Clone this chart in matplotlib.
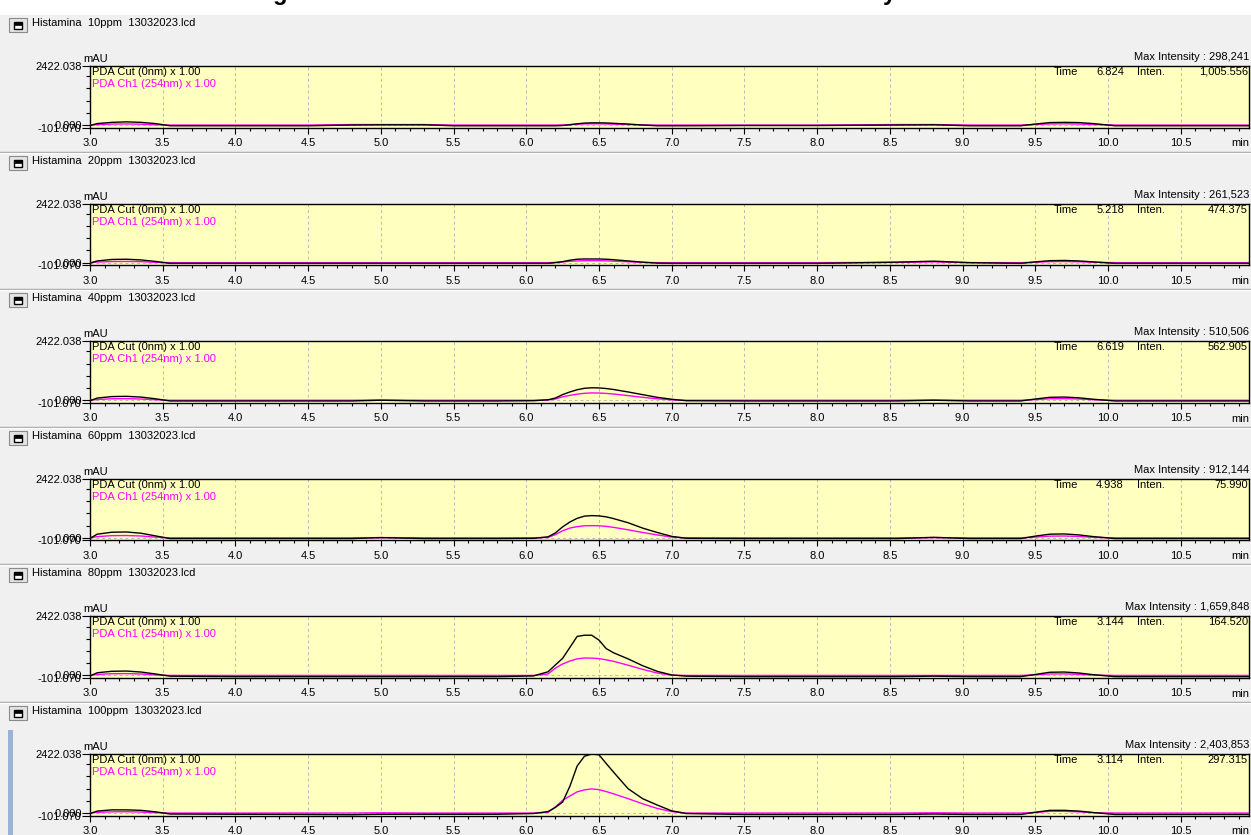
import matplotlib.pyplot as plt
from matplotlib.patches import Rectangle
from matplotlib.lines import Line2D
from matplotlib.ticker import MultipleLocator, FixedLocator

plt.rcParams['font.family'] = ['Liberation Sans', 'DejaVu Sans']

# tiempos comunes (min)
time_pts = [3.00, 3.05, 3.15, 3.25, 3.35, 3.45, 3.55,
            4.00, 4.50, 4.80, 5.00, 5.30, 5.50, 5.80,
            6.05, 6.15, 6.20, 6.25, 6.30, 6.35, 6.40, 6.45, 6.50, 6.55, 6.60,
            6.70, 6.80, 6.90, 7.00, 7.10,
            7.50, 8.00, 8.55, 8.80, 9.05,
            9.40, 9.50, 9.60, 9.70, 9.80, 9.90, 10.05,
            10.50, 10.97]

# PDA Cut (0nm), mAU
cut_10 = [-20, 60, 110, 130, 110, 60, -30,
          -30, -30, 0, 10, 10, -30, -30,
          -30, -30, -30, -20, 10, 50, 80, 90, 90, 85, 70, 40, 0, -30, -30, -30,
          -20, -20, 0, 10, -30,
          -30, 40, 100, 110, 100, 60, -30,
          -30, -30]
cut_20 = [-20, 70, 130, 140, 110, 50, -30,
          -30, -30, -30, -30, -30, -30, -30,
          -30, -30, 0, 40, 100, 140, 150, 150, 150, 140, 120, 70, 20, -20, -30, -30,
          -30, -30, 20, 60, 0,
          -30, 30, 80, 90, 70, 30, -30,
          -30, -30]
cut_40 = [-20, 90, 150, 160, 130, 60, -30,
          -30, -30, -30, 0, -30, -30, -30,
          -20, 20, 90, 230, 340, 430, 490, 510, 505, 480, 440, 340, 230, 120, 40, -20,
          -30, -30, -30, 0, -30,
          -30, 50, 120, 130, 100, 40, -30,
          -30, -30]
cut_60 = [-20, 150, 230, 240, 190, 80, -30,
          -30, -30, -30, 10, -30, -30, -30,
          -20, 40, 200, 450, 650, 800, 890, 912, 900, 860, 790, 620, 400, 220, 60, -20,
          -30, -30, -30, 20, -30,
          -30, 70, 150, 160, 120, 50, -30,
          -30, -30]
cut_80 = [-20, 110, 170, 180, 140, 60, -30,
          -50, -50, -50, -50, -50, -50, -50,
          -20, 150, 430, 700, 1150, 1600, 1650, 1650, 1450, 1100, 930, 680, 400, 170, 20, -30,
          -50, -50, -50, -30, -50,
          -50, 40, 130, 140, 100, 30, -50,
          -50, -50]
cut_100 = [-20, 80, 130, 130, 110, 50, -40,
           -50, -60, -70, -50, -50, -50, -50,
           -20, 60, 230, 450, 1100, 1930, 2330, 2420, 2390, 2030, 1680, 1000, 590, 330, 90, -20,
           -60, -60, -60, -40, -60,
           -60, 30, 110, 110, 80, 20, -60,
           -60, -60]

# PDA Ch1 (254nm), mAU
ch1_10 = [0, 20, 40, 45, 35, 10, 0,
          0, 0, 20, 20, 20, 0, 0,
          0, 0, 0, 5, 20, 35, 45, 50, 50, 45, 35, 20, 5, 0, 0, 0,
          0, 0, 20, 20, 0,
          0, 20, 45, 50, 40, 20, 0,
          0, 0]
ch1_20 = [0, 25, 45, 50, 40, 15, 0,
          0, 0, 0, 0, 0, 0, 0,
          0, 0, 10, 30, 55, 70, 80, 80, 80, 75, 60, 35, 10, 0, 0, 0,
          0, 0, 10, 30, 0,
          0, 15, 40, 45, 35, 15, 0,
          0, 0]
ch1_40 = [0, 30, 60, 65, 50, 20, 0,
          0, 0, 0, 10, 0, 0, 0,
          0, 10, 50, 140, 200, 250, 285, 300, 295, 280, 255, 190, 120, 60, 15, 0,
          0, 0, 0, 10, 0,
          0, 25, 60, 65, 50, 20, 0,
          0, 0]
ch1_60 = [0, 50, 90, 95, 75, 30, 0,
          0, 0, 0, 10, 0, 0, 0,
          0, 20, 130, 290, 400, 460, 495, 500, 495, 470, 430, 330, 220, 120, 30, 0,
          0, 0, 0, 10, 0,
          0, 30, 70, 75, 55, 20, 0,
          0, 0]
ch1_80 = [0, 40, 70, 75, 60, 20, 0,
          0, 0, 0, 0, 0, 0, 0,
          0, 60, 300, 470, 590, 680, 715, 710, 690, 640, 580, 420, 250, 100, 10, 0,
          0, 0, 0, 0, 0,
          0, 25, 60, 65, 45, 15, 0,
          0, 0]
ch1_100 = [0, 30, 50, 55, 40, 15, 0,
           0, 0, 0, 10, 0, 0, 0,
           0, 30, 250, 520, 700, 870, 950, 990, 960, 880, 790, 590, 380, 190, 60, 0,
           0, 0, 0, 10, 0,
           0, 25, 70, 70, 50, 15, 0,
           0, 0]

panel_names = ['Histamina  10ppm  13032023.lcd', 'Histamina  20ppm  13032023.lcd',
               'Histamina  40ppm  13032023.lcd', 'Histamina  60ppm  13032023.lcd',
               'Histamina  80ppm  13032023.lcd', 'Histamina  100ppm  13032023.lcd']
max_intensity = ['298,241', '261,523', '510,506', '912,144', '1,659,848', '2,403,853']
cursor_time = ['6.824', '5.218', '6.619', '4.938', '3.144', '3.114']
cursor_inten = ['1,005.556', '474.375', '562.905', '75.990', '164.520', '297.315']

cut_series = [cut_10, cut_20, cut_40, cut_60, cut_80, cut_100]
ch1_series = [ch1_10, ch1_20, ch1_40, ch1_60, ch1_80, ch1_100]

y_min, y_max = -101.070, 2422.038
x_min, x_max = 3.0, 10.97

W, H = 1251, 835


def fx(x):
    return x / W


def fy(y):
    return 1 - y / H


fig = plt.figure(figsize=(W / 100, H / 100), dpi=100)
fig.patch.set_facecolor('#f0f0f0')

# franja blanca de arriba y titulo cortado
fig.add_artist(Rectangle((0, fy(15)), 1, 15 / H, transform=fig.transFigure,
                         facecolor='white', edgecolor='none'))
fig.text(fx(280), fy(0), 'g', fontsize=17, fontweight='bold', ha='center', va='baseline')
fig.text(fx(889), fy(0), 'y', fontsize=17, fontweight='bold', ha='center', va='baseline')

# barra azul del panel seleccionado
fig.add_artist(Rectangle((fx(8), 0), 5 / W, (H - 730) / H, transform=fig.transFigure,
                         facecolor='#9cb4d4', edgecolor='none'))

step = 137.6
ph = 61.5
left, right = 90, 1249

for i in range(6):
    top = 66 + i * step
    bottom = top + ph

    # cabecera
    fig.add_artist(Rectangle((fx(9), fy(top - 34)), 18 / W, 14 / H, transform=fig.transFigure,
                             facecolor='#e4e4e4', edgecolor='#8a8a8a', lw=0.8))
    fig.add_artist(Rectangle((fx(14), fy(top - 37)), 8 / W, 7 / H, transform=fig.transFigure,
                             facecolor='white', edgecolor='black', lw=1.0))
    fig.add_artist(Rectangle((fx(14), fy(top - 41)), 8 / W, 3 / H, transform=fig.transFigure,
                             facecolor='black', edgecolor='black', lw=0.5))
    fig.text(fx(32), fy(top - 43), panel_names[i], fontsize=8, va='center', ha='left')

    ax = fig.add_axes([fx(left), fy(bottom), (right - left) / W, ph / H])
    ax.set_facecolor('#ffffc0')
    ax.set_xlim(x_min, x_max)
    ax.set_ylim(y_min, y_max)

    for xg in [3.5, 4.0, 4.5, 5.0, 5.5, 6.0, 6.5, 7.0, 7.5, 8.0, 8.5, 9.0, 9.5, 10.0, 10.5]:
        ax.axvline(xg, color='#b8b8b8', lw=0.7, ls=(0, (3, 3)), zorder=1)
    ax.axhline(0, color='#b8b8b8', lw=0.7, ls=(0, (3, 3)), zorder=1)

    ax.plot(time_pts, ch1_series[i], color='#ff00ff', lw=1.0, zorder=3)
    ax.plot(time_pts, cut_series[i], color='black', lw=1.0, zorder=4)

    for s in ax.spines.values():
        s.set_linewidth(1.0)

    ax.xaxis.set_major_locator(MultipleLocator(0.5))
    ax.xaxis.set_minor_locator(MultipleLocator(0.1))
    ax.xaxis.set_major_formatter(lambda v, p: f'{v:.1f}')
    ax.yaxis.set_major_locator(FixedLocator([y_min, 0, y_max]))
    ax.yaxis.set_minor_locator(FixedLocator([500, 1000, 1500, 2000]))
    ax.set_yticklabels(['-101.070', '0.000', '2422.038'])
    ax.tick_params(axis='x', which='major', direction='out', length=4, width=0.8,
                   labelsize=8, pad=3.5)
    ax.tick_params(axis='x', which='minor', direction='out', length=2.5, width=0.8)
    ax.tick_params(axis='y', which='major', direction='out', length=6, width=0.8,
                   labelsize=8, pad=0)
    ax.tick_params(axis='y', which='minor', direction='out', length=3, width=0.8)

    # textos del cromatograma
    fig.text(fx(83), fy(top - 2), 'mAU', fontsize=8, ha='left', va='bottom')
    fig.text(fx(1240), fy(bottom + 16), 'min', fontsize=8, ha='center', va='center')
    fig.text(fx(92), fy(top + 6), 'PDA Cut (0nm) x 1.00', fontsize=8, ha='left', va='center')
    fig.text(fx(92), fy(top + 18), 'PDA Ch1 (254nm) x 1.00', fontsize=8, ha='left',
             va='center', color='#ff00ff')
    fig.text(fx(1249), fy(top - 9), 'Max Intensity : ' + max_intensity[i], fontsize=8,
             ha='right', va='center')
    fig.text(fx(1054), fy(top + 6), 'Time', fontsize=8, ha='left', va='center')
    fig.text(fx(1124), fy(top + 6), cursor_time[i], fontsize=8, ha='right', va='center')
    fig.text(fx(1137), fy(top + 6), 'Inten.', fontsize=8, ha='left', va='center')
    fig.text(fx(1248), fy(top + 6), cursor_inten[i], fontsize=8, ha='right', va='center')

    # separador
    sep = bottom + 24
    if sep < H:
        fig.add_artist(Line2D([0, 1], [fy(sep), fy(sep)], transform=fig.transFigure,
                              color='#a0a0a0', lw=1.0))
        fig.add_artist(Line2D([0, 1], [fy(sep + 1), fy(sep + 1)], transform=fig.transFigure,
                              color='white', lw=1.0))

fig.savefig('out.png', dpi=100, facecolor=fig.get_facecolor())
